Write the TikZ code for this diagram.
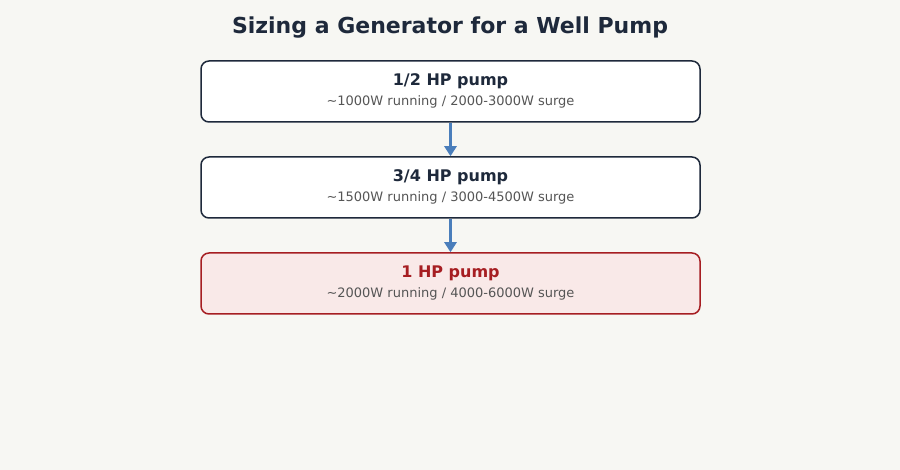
\documentclass[tikz,border=0pt]{standalone}
\usepackage{fontspec}
\setmainfont{DejaVu Sans}
\usetikzlibrary{positioning,arrows.meta}
\definecolor{bgpaper}{HTML}{F7F7F3}
\definecolor{navy}{HTML}{1E293B}
\definecolor{alertred}{HTML}{A61E22}
\definecolor{alertfill}{HTML}{F9E9E8}
\definecolor{subgray}{HTML}{555555}
\definecolor{flowblue}{HTML}{4A7EBB}
\tikzset{
  pumpbox/.style={draw=navy,line width=1.5pt,fill=white,rounded corners=8pt,
    minimum width=499pt,minimum height=61pt,inner sep=0pt},
  hotbox/.style={pumpbox,draw=alertred,fill=alertfill},
  boxhead/.style={font=\bfseries\fontsize{16}{19}\selectfont,text=navy},
  boxsub/.style={font=\fontsize{13}{16}\selectfont,text=subgray},
  flow/.style={draw=flowblue,line width=2.5pt,-{Triangle[width=12pt,length=10pt]}}
}
\begin{document}
\begin{tikzpicture}[x=1pt,y=-1pt]
   % Canvas
   \useasboundingbox[fill=bgpaper] (0,0) rectangle (900,470);
   % Title
   \node[font=\bfseries\fontsize{22}{26}\selectfont,text=navy] (title) at (450,28) {Sizing a Generator for a Well Pump};
   % Pump sizes
   \node[pumpbox] (half) at (450.5,91.5) {};
   \node[pumpbox,below=33.5pt of half] (threeq) {};
   \node[hotbox,below=33.5pt of threeq] (one) {};
   % Labels
   \node[boxhead] (halfhead) at ([yshift=10.5pt]half.center) {1/2 HP pump};
   \node[boxsub]  (halfsub)  at ([yshift=-10pt]half.center) {\textasciitilde1000W running / 2000-3000W surge};
   \node[boxhead] (threeqhead) at ([yshift=10.5pt]threeq.center) {3/4 HP pump};
   \node[boxsub]  (threeqsub)  at ([yshift=-10pt]threeq.center) {\textasciitilde1500W running / 3000-4500W surge};
   \node[boxhead,text=alertred] (onehead) at ([yshift=10.5pt]one.center) {1 HP pump};
   \node[boxsub]  (onesub)  at ([yshift=-10pt]one.center) {\textasciitilde2000W running / 4000-6000W surge};
   % Arrows
   \draw[flow] (half) -- (threeq);
   \draw[flow] (threeq) -- (one);
\end{tikzpicture}
\end{document}
